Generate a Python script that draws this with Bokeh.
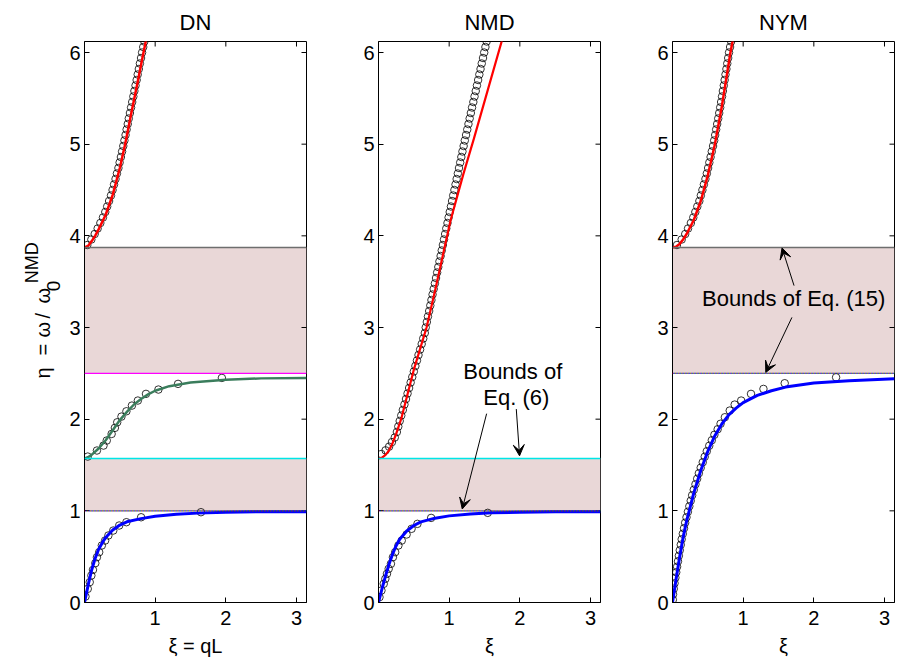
import numpy as np
from bokeh.plotting import figure
from bokeh.layouts import row
from bokeh.models import Span, Label, Arrow, VeeHead, Range1d, FixedTicker
from bokeh.core.properties import value
from bokeh.embed import file_html
from bokeh.resources import INLINE

FONT = "Liberation Sans"

# ---------------- axes ----------------
XI_MAX = np.pi
ETA_MAX = 6.12
X_TICKS = [1, 2, 3]
Y_TICKS = [0, 1, 2, 3, 4, 5, 6]
TITLES = ["DN", "NMD", "NYM"]
X_LABELS = ["ξ = qL", "ξ", "ξ"]
Y_LABEL_MAIN = ["η", "=", "ω", "/", "ω"]
Y_LABEL_SUB = "0"
Y_LABEL_SUP = "NMD"

# ---------------- band-gap bounds ----------------
DN_BAND_LOW = [1.0, 2.5]
DN_BAND_HIGH = [1.571, 3.873]
NMD_BAND_LOW = [1.0]
NMD_BAND_HIGH = [1.571]
NYM_BAND_LOW = [2.5]
NYM_BAND_HIGH = [3.873]

# ---------------- DN ----------------
DN_BLUE_XI = [0, 0.03, 0.06, 0.1, 0.15, 0.2, 0.25, 0.3, 0.4, 0.5, 0.6, 0.8, 1.0, 1.3, 1.6, 2.0, 2.5, 3.1416]
DN_BLUE_ETA = [0, 0.11, 0.22, 0.35, 0.48, 0.58, 0.65, 0.71, 0.79, 0.845, 0.88, 0.915, 0.94, 0.962, 0.975, 0.985, 0.99, 0.99]
DN_BLUE_PTS_XI = [0.014, 0.046, 0.074, 0.097, 0.12, 0.153, 0.176, 0.208, 0.245, 0.292, 0.338, 0.407, 0.491, 0.593, 0.801, 1.648]
DN_BLUE_PTS_ETA = [0.065, 0.149, 0.222, 0.294, 0.356, 0.429, 0.494, 0.549, 0.622, 0.676, 0.731, 0.785, 0.84, 0.876, 0.93, 0.985]

DN_GREEN_XI = [0, 0.05, 0.1, 0.2, 0.3, 0.4, 0.5, 0.6, 0.7, 0.8, 0.9, 1.0, 1.2, 1.5, 2.0, 2.5, 3.1416]
DN_GREEN_ETA = [1.571, 1.585, 1.61, 1.68, 1.77, 1.88, 1.99, 2.08, 2.16, 2.22, 2.27, 2.31, 2.36, 2.40, 2.43, 2.445, 2.45]
DN_GREEN_PTS_XI = [0.046, 0.176, 0.269, 0.315, 0.384, 0.43, 0.463, 0.523, 0.593, 0.671, 0.755, 0.87, 1.046, 1.324, 1.944]
DN_GREEN_PTS_ETA = [1.592, 1.658, 1.712, 1.767, 1.839, 1.905, 1.966, 2.028, 2.086, 2.148, 2.203, 2.276, 2.323, 2.385, 2.45]

DN_RED_XI = [0, 0.05, 0.1, 0.15, 0.2, 0.3, 0.4, 0.5, 0.575, 0.65, 0.75, 0.835, 0.88]
DN_RED_ETA = [3.873, 3.89, 3.94, 4.00, 4.07, 4.23, 4.45, 4.74, 5.0, 5.29, 5.67, 6.0, 6.17]
DN_RED_PTS_XI = [0.04, 0.097, 0.144, 0.186, 0.224, 0.261, 0.294, 0.321, 0.348, 0.375, 0.397, 0.418, 0.439,
                 0.459, 0.48, 0.497, 0.515, 0.532, 0.549, 0.565, 0.581, 0.596, 0.612, 0.627, 0.643, 0.659,
                 0.675, 0.691, 0.706, 0.722, 0.738, 0.753, 0.769, 0.784, 0.8, 0.815, 0.831, 0.847]
DN_RED_PTS_ETA = [3.90, 3.96, 4.02, 4.08, 4.14, 4.20, 4.26, 4.32, 4.38, 4.44, 4.50, 4.56, 4.62, 4.68, 4.74,
                  4.80, 4.86, 4.92, 4.98, 5.04, 5.10, 5.16, 5.22, 5.28, 5.34, 5.40, 5.46, 5.52, 5.58, 5.64,
                  5.70, 5.76, 5.82, 5.88, 5.94, 6.00, 6.06, 6.12]

# ---------------- NMD ----------------
NMD_BLUE_XI = [0, 0.03, 0.06, 0.1, 0.15, 0.2, 0.25, 0.3, 0.4, 0.5, 0.6, 0.8, 1.0, 1.3, 1.6, 2.0, 2.5, 3.1416]
NMD_BLUE_ETA = [0, 0.09, 0.18, 0.29, 0.42, 0.53, 0.62, 0.69, 0.78, 0.84, 0.88, 0.92, 0.945, 0.965, 0.978, 0.985, 0.99, 0.99]
NMD_BLUE_PTS_XI = [0.014, 0.042, 0.074, 0.097, 0.12, 0.144, 0.176, 0.204, 0.236, 0.282, 0.329, 0.398, 0.468, 0.551, 0.745, 1.546]
NMD_BLUE_PTS_ETA = [0.058, 0.131, 0.204, 0.258, 0.313, 0.367, 0.422, 0.494, 0.549, 0.622, 0.676, 0.742, 0.804, 0.858, 0.923, 0.978]

NMD_RED_XI = [0, 0.05, 0.1, 0.15, 0.2, 0.25, 0.32, 0.4, 0.5, 0.68, 0.8, 1.02, 1.2, 1.35, 1.55, 1.75]
NMD_RED_ETA = [1.571, 1.58, 1.61, 1.66, 1.74, 1.84, 2.0, 2.24, 2.54, 3.0, 3.40, 4.17, 4.67, 5.06, 5.60, 6.14]
NMD_RED_PTS_XI = [0.04, 0.10, 0.15, 0.19, 0.23, 0.26, 0.28, 0.30, 0.322, 0.344, 0.367, 0.389, 0.411, 0.433,
                  0.455, 0.478, 0.5, 0.522, 0.544, 0.566, 0.589, 0.611, 0.633, 0.655, 0.668, 0.684, 0.7,
                  0.717, 0.733, 0.749, 0.765, 0.781, 0.798, 0.814, 0.83, 0.846, 0.862, 0.879, 0.895, 0.911,
                  0.927, 0.943, 0.959, 0.976, 0.992, 1.008, 1.025, 1.041, 1.057, 1.074, 1.09, 1.106, 1.123,
                  1.139, 1.156, 1.172, 1.188, 1.205, 1.221, 1.239, 1.256, 1.273, 1.29, 1.307, 1.324, 1.342,
                  1.359, 1.376, 1.393, 1.41, 1.427, 1.444, 1.461, 1.479, 1.496, 1.513, 1.53]
NMD_RED_PTS_ETA = [1.62, 1.66, 1.70, 1.75, 1.80, 1.86, 1.92, 1.98, 2.04, 2.10, 2.16, 2.22, 2.28, 2.34,
                   2.40, 2.46, 2.52, 2.58, 2.64, 2.70, 2.76, 2.82, 2.88, 2.94, 3.00, 3.06, 3.12,
                   3.18, 3.24, 3.30, 3.36, 3.42, 3.48, 3.54, 3.60, 3.66, 3.72, 3.78, 3.84, 3.90,
                   3.96, 4.02, 4.08, 4.14, 4.20, 4.26, 4.32, 4.38, 4.44, 4.50, 4.56, 4.62, 4.68,
                   4.74, 4.80, 4.86, 4.92, 4.98, 5.04, 5.10, 5.16, 5.22, 5.28, 5.34, 5.40, 5.46,
                   5.52, 5.58, 5.64, 5.70, 5.76, 5.82, 5.88, 5.94, 6.00, 6.06, 6.12]

# ---------------- NYM ----------------
NYM_BLUE_XI = [0, 0.05, 0.1, 0.15, 0.2, 0.3, 0.4, 0.5, 0.6, 0.7, 0.8, 0.9, 1.0, 1.2, 1.4, 1.6, 2.0, 2.5, 3.1416]
NYM_BLUE_ETA = [0, 0.25, 0.49, 0.71, 0.89, 1.19, 1.44, 1.65, 1.82, 1.95, 2.05, 2.12, 2.18, 2.26, 2.31, 2.35, 2.395, 2.42, 2.44]
NYM_BLUE_PTS_XI = [0.005, 0.008, 0.018, 0.029, 0.041, 0.053, 0.065, 0.078, 0.09, 0.103, 0.117, 0.13, 0.146,
                   0.163, 0.179, 0.198, 0.218, 0.238, 0.258, 0.278, 0.301, 0.325, 0.349, 0.373, 0.399,
                   0.428, 0.456, 0.485, 0.52, 0.556, 0.593, 0.639, 0.68, 0.741, 0.81, 0.88, 0.972, 1.111,
                   1.287, 1.588, 2.315]
NYM_BLUE_PTS_ETA = [0.03, 0.09, 0.15, 0.21, 0.27, 0.33, 0.39, 0.45, 0.51, 0.57, 0.63, 0.69, 0.75,
                    0.81, 0.87, 0.93, 0.99, 1.05, 1.11, 1.17, 1.23, 1.29, 1.35, 1.41, 1.47,
                    1.53, 1.59, 1.65, 1.71, 1.77, 1.83, 1.89, 1.95, 2.021, 2.094, 2.159, 2.203, 2.276,
                    2.33, 2.392, 2.457]

NYM_RED_XI = [0, 0.05, 0.1, 0.15, 0.2, 0.3, 0.4, 0.5, 0.6, 0.7, 0.82, 0.87]
NYM_RED_ETA = [3.873, 3.88, 3.91, 3.96, 4.02, 4.17, 4.38, 4.66, 5.0, 5.42, 6.0, 6.2]
NYM_RED_PTS_XI = [0.063, 0.13, 0.18, 0.22, 0.26, 0.294, 0.323, 0.351, 0.38, 0.401, 0.423, 0.444, 0.466,
                  0.486, 0.504, 0.521, 0.539, 0.556, 0.574, 0.59, 0.604, 0.618, 0.632, 0.647, 0.661,
                  0.675, 0.688, 0.701, 0.713, 0.726, 0.738, 0.75, 0.763, 0.775, 0.788, 0.8, 0.815, 0.83]
NYM_RED_PTS_ETA = [3.90, 3.96, 4.02, 4.08, 4.14, 4.20, 4.26, 4.32, 4.38, 4.44, 4.50, 4.56, 4.62,
                   4.68, 4.74, 4.80, 4.86, 4.92, 4.98, 5.04, 5.10, 5.16, 5.22, 5.28, 5.34,
                   5.40, 5.46, 5.52, 5.58, 5.64, 5.70, 5.76, 5.82, 5.88, 5.94, 6.00, 6.06, 6.12]

# ---------------- styles / layout ----------------
BAND_FILL = "#E9D7D7"
GRAY_EDGE = "#6E6E6E"
CYAN_EDGE = "#00E6E6"
MAGENTA_EDGE = "#FF00FF"
BLUE = "#0000FF"
RED = "#FF0000"
GREEN = "#3A7D5C"

FRAME_W = 222
FRAME_H = 561
TOP_B = 41
BOT_B = 60
TOTAL_H = TOP_B + FRAME_H + BOT_B
LABEL_W = 64


def make_panel(title, xlabel, left_border):
    p = figure(frame_width=FRAME_W, frame_height=FRAME_H,
               x_range=Range1d(0, XI_MAX), y_range=Range1d(0, ETA_MAX),
               output_backend="svg", toolbar_location=None,
               min_border_left=left_border, min_border_right=4,
               min_border_top=TOP_B, min_border_bottom=BOT_B, title=title)
    p.title.text_font = FONT
    p.title.text_font_size = "22px"
    p.title.text_font_style = "normal"
    p.title.text_color = "black"
    p.title.align = "center"
    p.title.standoff = 13
    p.grid.visible = False
    p.outline_line_color = "black"
    p.outline_line_width = 1
    p.background_fill_color = "white"
    p.border_fill_color = "white"

    p.xaxis.ticker = FixedTicker(ticks=X_TICKS)
    p.yaxis.ticker = FixedTicker(ticks=Y_TICKS)
    for ax in (p.xaxis[0], p.yaxis[0]):
        ax.major_tick_in = 5
        ax.major_tick_out = 0
        ax.minor_tick_line_color = None
        ax.axis_line_color = "black"
        ax.major_tick_line_color = "black"
        ax.major_label_text_font = FONT
        ax.major_label_text_font_size = "20px"
        ax.major_label_text_color = "black"
    p.yaxis.major_label_standoff = 4
    p.xaxis.major_label_standoff = 8
    p.xaxis.axis_label = xlabel
    p.xaxis.axis_label_text_font = FONT
    p.xaxis.axis_label_text_font_size = "20px"
    p.xaxis.axis_label_text_font_style = "normal"
    p.xaxis.axis_label_text_color = "black"
    p.xaxis.axis_label_standoff = 7

    # mirrored inner ticks on top and right edges (half of each dash is clipped by the frame)
    p.scatter(X_TICKS, [ETA_MAX] * len(X_TICKS), marker="dash", angle=np.pi / 2, size=10,
              line_color="black", line_width=1)
    p.scatter([XI_MAX] * len(Y_TICKS), Y_TICKS, marker="dash", size=10,
              line_color="black", line_width=1)
    return p


def add_bands(p, lows, highs):
    p.quad(left=0, right=XI_MAX, bottom=lows, top=highs,
           fill_color=BAND_FILL, line_color=None, level="underlay")


def edge(p, loc, color):
    p.add_layout(Span(location=loc, dimension="width", line_color=color, line_width=1.4))


def multi_edge(p, loc):
    for off, c in zip([0, 1, 2], ["#FF0000", "#00A000", "#0000FF"]):
        p.add_layout(Span(location=loc, dimension="width", line_color=c, line_width=1.3,
                          line_dash="1 2", line_dash_offset=off))


def circles(p, xs, ys):
    p.scatter(xs, ys, marker="circle", size=7.5, fill_color=None,
              line_color="black", line_width=0.8)


def curve(p, xs, ys, color, width):
    p.line(xs, ys, line_color=color, line_width=width)


# ---------------- rotated y-axis label (own narrow canvas) ----------------
p0 = figure(width=LABEL_W, height=TOTAL_H, x_range=Range1d(0, LABEL_W), y_range=Range1d(0, TOTAL_H),
            output_backend="svg", toolbar_location=None, x_axis_type=None, y_axis_type=None,
            min_border=0, min_border_left=0, min_border_right=0, min_border_top=0, min_border_bottom=0)
p0.grid.visible = False
p0.outline_line_color = None
p0.background_fill_color = "white"
p0.border_fill_color = "white"
p0.text(x=[42] * 5, y=[271, 298.5, 322, 338.5, 362], text=Y_LABEL_MAIN, angle=np.pi / 2,
        text_font=value(FONT), text_font_size="20px", text_color="black",
        text_align="center", text_baseline="alphabetic")
p0.text(x=[53], y=[373.5], text=[Y_LABEL_SUB], angle=np.pi / 2,
        text_font=value(FONT), text_font_size="19px", text_color="black",
        text_align="center", text_baseline="alphabetic")
p0.text(x=[31], y=[401], text=[Y_LABEL_SUP], angle=np.pi / 2,
        text_font=value(FONT), text_font_size="18px", text_color="black",
        text_align="center", text_baseline="alphabetic")

# ---------------- DN panel ----------------
p1 = make_panel(TITLES[0], X_LABELS[0], 84 - LABEL_W)
add_bands(p1, DN_BAND_LOW, DN_BAND_HIGH)
edge(p1, DN_BAND_HIGH[1], GRAY_EDGE)
edge(p1, DN_BAND_LOW[1], MAGENTA_EDGE)
edge(p1, DN_BAND_HIGH[0], CYAN_EDGE)
multi_edge(p1, DN_BAND_LOW[0])
circles(p1, DN_BLUE_PTS_XI, DN_BLUE_PTS_ETA)
circles(p1, DN_GREEN_PTS_XI, DN_GREEN_PTS_ETA)
circles(p1, DN_RED_PTS_XI, DN_RED_PTS_ETA)
curve(p1, DN_BLUE_XI, DN_BLUE_ETA, BLUE, 3)
curve(p1, DN_GREEN_XI, DN_GREEN_ETA, GREEN, 2.5)
curve(p1, DN_RED_XI, DN_RED_ETA, RED, 2.5)

# ---------------- NMD panel ----------------
p2 = make_panel(TITLES[1], X_LABELS[1], 68)
add_bands(p2, NMD_BAND_LOW, NMD_BAND_HIGH)
edge(p2, NMD_BAND_HIGH[0], CYAN_EDGE)
multi_edge(p2, NMD_BAND_LOW[0])
circles(p2, NMD_BLUE_PTS_XI, NMD_BLUE_PTS_ETA)
circles(p2, NMD_RED_PTS_XI, NMD_RED_PTS_ETA)
curve(p2, NMD_BLUE_XI, NMD_BLUE_ETA, BLUE, 3)
curve(p2, NMD_RED_XI, NMD_RED_ETA, RED, 2.2)
p2.add_layout(Label(x=1.9, y=2.52, text="Bounds of", text_font=FONT, text_font_size="22px",
                    text_align="center", text_baseline="middle", text_color="black"))
p2.add_layout(Label(x=1.95, y=2.24, text="Eq. (6)", text_font=FONT, text_font_size="22px",
                    text_align="center", text_baseline="middle", text_color="black"))
for xs, ys, xe, ye in [(1.53, 2.06, 1.185, 1.02), (1.95, 2.11, 1.996, 1.60)]:
    p2.add_layout(Arrow(end=VeeHead(size=11, fill_color="black", line_color="black", line_width=1),
                        x_start=xs, y_start=ys, x_end=xe, y_end=ye,
                        line_color="black", line_width=1))

# ---------------- NYM panel ----------------
p3 = make_panel(TITLES[2], X_LABELS[2], 68)
add_bands(p3, NYM_BAND_LOW, NYM_BAND_HIGH)
edge(p3, NYM_BAND_HIGH[0], GRAY_EDGE)
multi_edge(p3, NYM_BAND_LOW[0])
circles(p3, NYM_BLUE_PTS_XI, NYM_BLUE_PTS_ETA)
circles(p3, NYM_RED_PTS_XI, NYM_RED_PTS_ETA)
curve(p3, NYM_BLUE_XI, NYM_BLUE_ETA, BLUE, 3)
curve(p3, NYM_RED_XI, NYM_RED_ETA, RED, 2.5)
p3.add_layout(Label(x=1.715, y=3.315, text="Bounds of Eq. (15)", text_font=FONT, text_font_size="22px",
                    text_align="center", text_baseline="middle", text_color="black"))
for xs, ys, xe, ye in [(1.72, 3.457, 1.55, 3.868), (1.69, 3.11, 1.32, 2.51)]:
    p3.add_layout(Arrow(end=VeeHead(size=11, fill_color="black", line_color="black", line_width=1),
                        x_start=xs, y_start=ys, x_end=xe, y_end=ye,
                        line_color="black", line_width=1))

layout = row(p0, p1, p2, p3)
open("out.html", "w").write(file_html(layout, INLINE))
